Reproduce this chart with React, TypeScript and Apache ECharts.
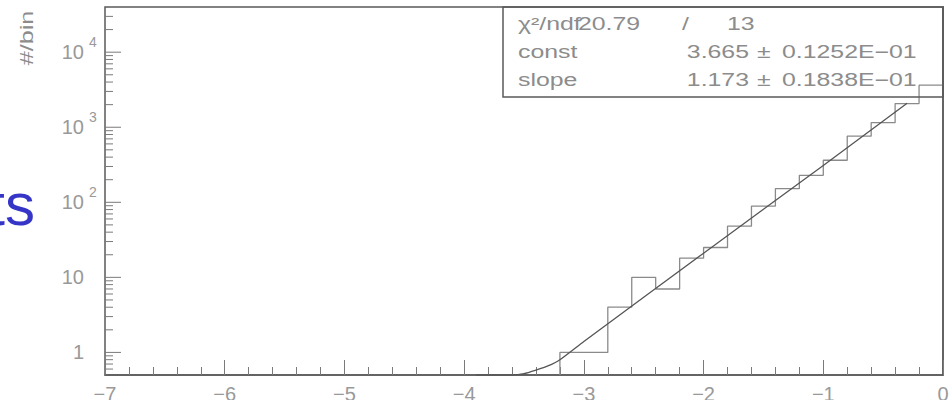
import React, { useEffect, useRef } from "react";
import * as echarts from "echarts";

// Histogram: left edges of 0.2-wide bins and their contents
const binLeftEdges = [-3.2, -3.0, -2.8, -2.6, -2.4, -2.2, -2.0, -1.8, -1.6, -1.4, -1.2, -1.0, -0.8, -0.6, -0.4, -0.2];
const binRightEnd = 0;
const binCounts = [1, 1, 4, 10, 7, 18, 25, 48, 89, 152, 229, 363, 760, 1150, 2070, 3630];

// Fitted curve
const fitX = [-3.9, -3.6, -3.5, -3.4, -3.3, -3.2, -3.0, -2.0, -1.0, -0.3];
const fitY = [0.5, 0.5, 0.52, 0.58, 0.66, 0.8, 1.4, 21, 310, 2090];

// Axis
const xMin = -7;
const xMax = 0;
const yMin = 0.5;
const yMax = 40000;
const yDecades = [1, 10, 100, 1000, 10000];
const yDecadeBase = ["1", "10", "10", "10", "10"];
const yDecadeExp = ["", "", "2", "3", "4"];
const yMinorMultipliers = [2, 3, 4, 5, 6, 7, 8, 9];

// Stats box
const chi2Text = "20.79";
const ndfText = "13";
const parNames = ["const", "slope"];
const parValues = ["3.665", "1.173"];
const parErrors = ["0.1252E\u221201", "0.1838E\u221201"];

const yTitle = "#/bin";
const sideText = "ts";

const GRAY_TXT = "#8c8c8c";
const FRAME = "#5a5a5a";
const FONT = "Liberation Sans";

export default function App() {
  const ref = useRef<HTMLDivElement | null>(null);

  useEffect(() => {
    if (!ref.current) return;
    const chart = echarts.init(ref.current, null, { renderer: "svg" });

    const histData: number[][] = [[binLeftEdges[0], yMin]];
    binLeftEdges.forEach((x, i) => histData.push([x, binCounts[i]]));
    histData.push([binRightEnd, binCounts[binCounts.length - 1]]);

    const fitData = fitX.map((x, i) => [x, fitY[i]]);

    // y ticks (log minor ticks)
    const yTicks: number[][] = [];
    yDecades.forEach((d) => yTicks.push([xMin, d, 16]));
    [0.1, 1, 10, 100, 1000, 10000].forEach((d) => {
      yMinorMultipliers.forEach((m) => {
        const v = d * m;
        if (v > yMin && v < yMax) yTicks.push([xMin, v, 8]);
      });
    });
    const yLabelData = yDecades.map((d) => [xMin, d]);

    const sx = 1.38;
    const statText = (text: string, x: number, y: number, align = "left") => ({
      type: "text",
      x,
      y,
      scaleX: sx,
      z: 10,
      style: {
        text,
        fill: GRAY_TXT,
        fontSize: 18,
        fontFamily: FONT,
        align,
        verticalAlign: "middle",
      },
    });

    const option: any = {
      animation: false,
      grid: {
        left: 105,
        right: 8,
        top: 7,
        bottom: 25,
        show: true,
        borderColor: FRAME,
        borderWidth: 1.5,
        backgroundColor: "transparent",
        containLabel: false,
        outerBoundsMode: "none",
      },
      xAxis: {
        type: "value",
        min: xMin,
        max: xMax,
        interval: 1,
        axisLine: { show: true, lineStyle: { color: FRAME, width: 1.5 } },
        axisTick: { show: true, inside: true, length: 15, lineStyle: { color: "#7a7a7a", width: 1 } },
        minorTick: { show: true, splitNumber: 5, length: 8, lineStyle: { color: "#7a7a7a", width: 1 } },
        splitLine: { show: false },
        axisLabel: {
          show: true,
          margin: 9,
          color: "#999",
          fontSize: 20,
          fontFamily: FONT,
          formatter: (v: number) => (v < 0 ? "\u2212" + Math.abs(v) : String(v)),
        },
      },
      yAxis: {
        type: "log",
        logBase: 10,
        min: yMin,
        max: yMax,
        axisLine: { show: true, lineStyle: { color: FRAME, width: 1.5 } },
        axisTick: { show: false },
        axisLabel: { show: false },
        splitLine: { show: false },
        minorTick: { show: false },
      },
      series: [
        {
          type: "line",
          data: histData,
          step: "end",
          showSymbol: false,
          symbol: "none",
          lineStyle: { color: "#8a8a8a", width: 1.3 },
          z: 3,
        },
        {
          type: "line",
          data: fitData,
          showSymbol: false,
          symbol: "none",
          smooth: 0.2,
          lineStyle: { color: "#555", width: 1.3 },
          z: 4,
        },
        {
          type: "custom",
          coordinateSystem: "cartesian2d",
          data: yTicks,
          clip: false,
          z: 5,
          renderItem: (params: any, api: any) => {
            const p = api.coord([api.value(0), api.value(1)]);
            const len = api.value(2);
            return {
              type: "line",
              shape: { x1: p[0], y1: p[1], x2: p[0] + len, y2: p[1] },
              style: { stroke: "#7a7a7a", lineWidth: 1 },
            };
          },
        },
        {
          type: "custom",
          coordinateSystem: "cartesian2d",
          data: yLabelData,
          clip: false,
          z: 5,
          renderItem: (params: any, api: any) => {
            const p = api.coord([api.value(0), api.value(1)]);
            const i = params.dataIndex;
            const children: any[] = [
              {
                type: "text",
                x: p[0] - 21,
                y: p[1],
                style: {
                  text: yDecadeBase[i],
                  fill: "#999",
                  fontSize: 20,
                  fontFamily: FONT,
                  align: "right",
                  verticalAlign: "middle",
                },
              },
            ];
            if (yDecadeExp[i]) {
              children.push({
                type: "text",
                x: p[0] - 16,
                y: p[1] - 10,
                style: {
                  text: yDecadeExp[i],
                  fill: "#999",
                  fontSize: 14,
                  fontFamily: FONT,
                  align: "left",
                  verticalAlign: "middle",
                },
              });
            }
            return { type: "group", children };
          },
        },
      ],
      graphic: [
        {
          type: "rect",
          shape: { x: 503, y: 7, width: 440, height: 90 },
          style: { fill: "none", stroke: FRAME, lineWidth: 1.5 },
          z: 9,
        },
        statText("\u03c7\u00b2/ndf", 518, 24),
        statText(chi2Text, 578, 24),
        statText("/", 682, 24),
        statText(ndfText, 727, 24),
        statText(parNames[0], 518, 52),
        statText(parValues[0], 749, 52, "right"),
        statText("\u00b1", 757, 52),
        statText(parErrors[0], 782, 52),
        statText(parNames[1], 518, 80),
        statText(parValues[1], 749, 80, "right"),
        statText("\u00b1", 757, 80),
        statText(parErrors[1], 782, 80),
        {
          type: "text",
          x: 27,
          y: 38,
          rotation: Math.PI / 2,
          scaleX: 1.4,
          style: {
            text: yTitle,
            fill: GRAY_TXT,
            fontSize: 18,
            fontFamily: FONT,
            align: "center",
            verticalAlign: "middle",
          },
        },
        {
          type: "text",
          x: 35,
          y: 204,
          style: {
            text: sideText,
            fill: "#3535c8",
            fontSize: 60,
            fontFamily: FONT,
            align: "right",
            verticalAlign: "middle",
          },
        },
      ],
    };

    chart.setOption(option);
    return () => chart.dispose();
  }, []);

  return <div ref={ref} style={{ width: 951, height: 400, position: "absolute", left: 0, top: 0 }} />;
}
